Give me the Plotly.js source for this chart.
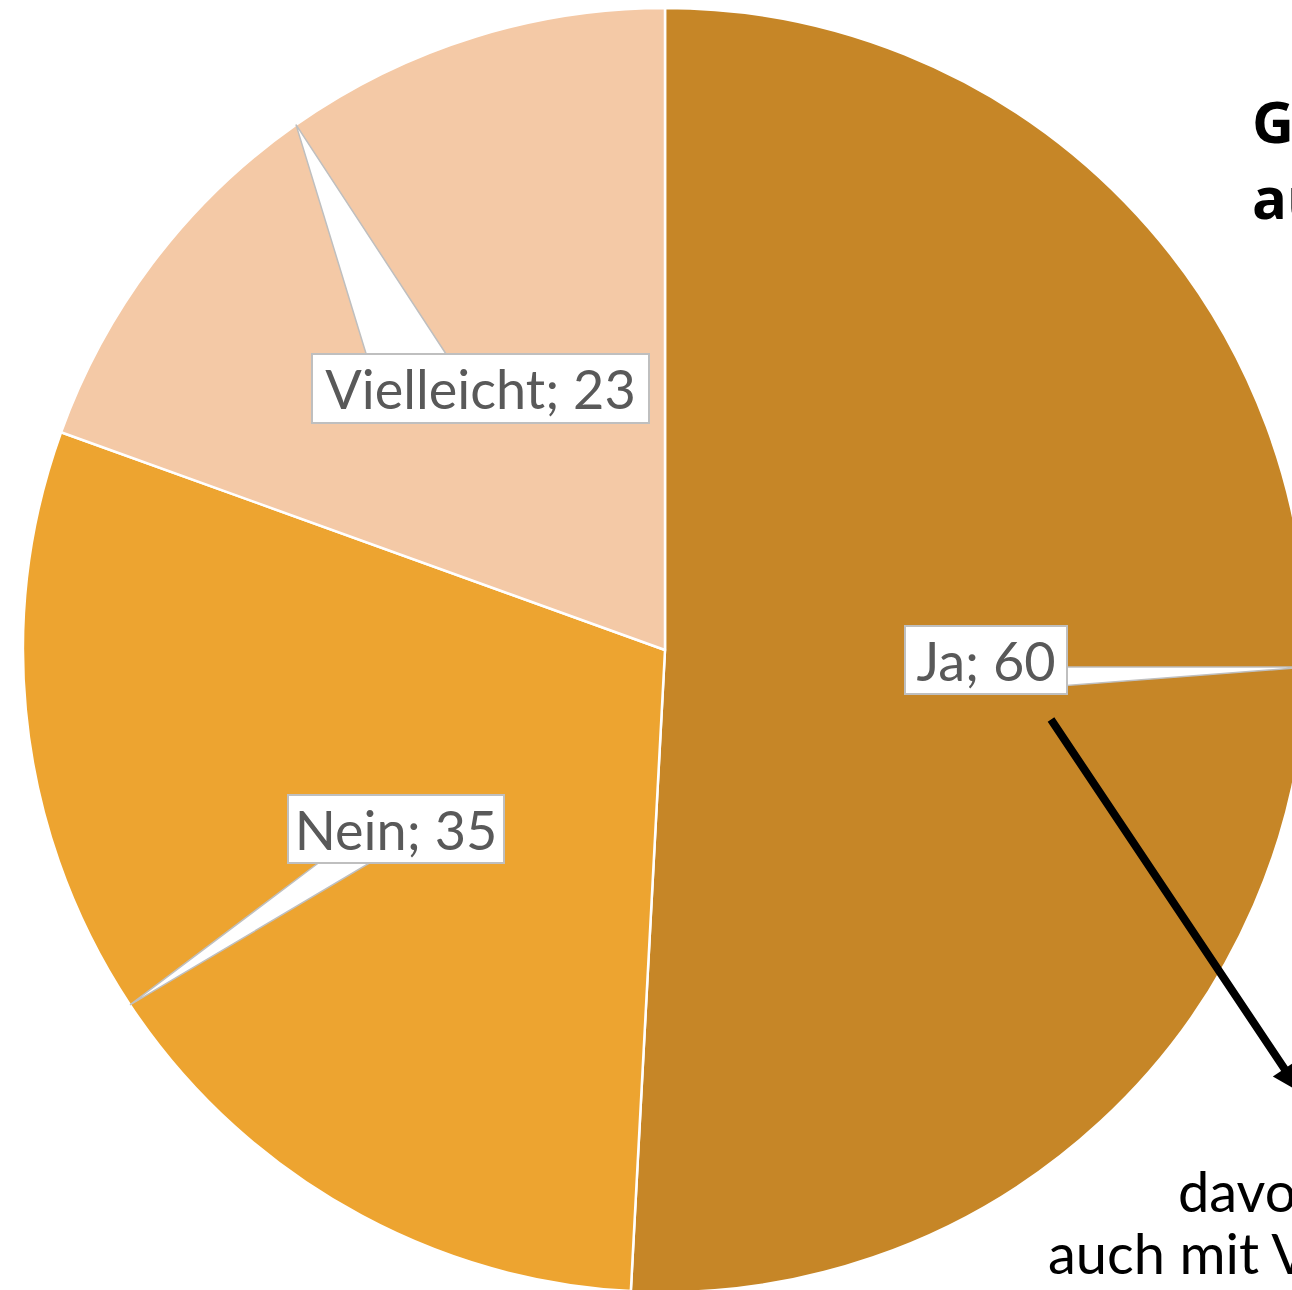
<!DOCTYPE html>
<html><head><meta charset="utf-8">
<script src="https://cdn.plot.ly/plotly-3.0.1.min.js"></script>
<style>html,body{margin:0;padding:0;overflow:hidden;background:#fff;}#chart{position:absolute;left:0;top:0;width:1900px;height:1400px;}</style>
</head><body><div id="chart"></div>
<script>
const categories = ["Ja", "Nein", "Vielleicht"];
const values = [60, 35, 23];
const colors = ["#C68627", "#EDA430", "#F4C9A6"];
const titleLines = ["Gibt es Interesse an", "auch künftigen Angeboten?"];
const noteLines = ["davon 28", "auch mit Verbesserungsvorschlägen"];

const W = 1900, H = 1400;
const CX = 665, CY = 650, R = 642;
const px = x => x / W;
const py = y => 1 - y / H;

// slice mid angles (clockwise from 12 o'clock), from data
const total = values.reduce((a, b) => a + b, 0);
let acc = 0;
const mids = values.map(v => { const m = (acc + v / 2) / total * 360; acc += v; return m; });
const tip = i => { const t = mids[i] * Math.PI / 180; return [CX + R * Math.sin(t), CY - R * Math.cos(t)]; };

// label boxes: [centerX, centerY, width, height]
const boxes = [[986, 660, 160, 66], [396, 829, 214, 66], [480, 388, 335, 67]];
// triangle bases for callouts (pixel layout positions)
const bases = [[[1060, 667], [1060, 686]], [[325, 858], [378, 858]], [[368, 360], [450, 360]]];

const shapes = categories.map((c, i) => {
  const [a, b] = bases[i]; const t = tip(i);
  return {type: 'path', xref: 'paper', yref: 'paper', layer: 'above',
    path: `M${px(a[0])},${py(a[1])} L${px(t[0])},${py(t[1])} L${px(b[0])},${py(b[1])} Z`,
    fillcolor: '#FFFFFF', line: {color: '#BFBFBF', width: 1.5}};
});

const annotations = categories.map((c, i) => ({
  xref: 'paper', yref: 'paper', x: px(boxes[i][0]), y: py(boxes[i][1]),
  xanchor: 'center', yanchor: 'middle', showarrow: false,
  text: c + '; ' + values[i], width: boxes[i][2], height: boxes[i][3],
  bgcolor: '#FFFFFF', bordercolor: '#BFBFBF', borderwidth: 2, borderpad: 0,
  font: {family: 'Lato, sans-serif', size: 54, color: '#595959'}
}));

annotations.push({xref: 'paper', yref: 'paper', x: px(1250), y: py(121), xanchor: 'left', yanchor: 'middle',
  showarrow: false, align: 'left', text: '<b>' + titleLines[0] + '</b>',
  font: {family: '"Open Sans", sans-serif', size: 58, color: '#000'}});
annotations.push({xref: 'paper', yref: 'paper', x: px(1250), y: py(197), xanchor: 'left', yanchor: 'middle',
  showarrow: false, align: 'left', text: '<b>' + titleLines[1] + '</b>',
  font: {family: '"Open Sans", sans-serif', size: 58, color: '#000'}});
annotations.push({xref: 'paper', yref: 'paper', x: px(1176), y: py(1190), xanchor: 'left', yanchor: 'middle',
  showarrow: false, text: noteLines[0], font: {family: 'Lato, sans-serif', size: 56, color: '#000'}});
annotations.push({xref: 'paper', yref: 'paper', x: px(1046), y: py(1252), xanchor: 'left', yanchor: 'middle',
  showarrow: false, text: noteLines[1], font: {family: 'Lato, sans-serif', size: 56, color: '#000'}});
// arrow
annotations.push({xref: 'paper', yref: 'paper', x: px(1300), y: py(1092), text: '', showarrow: true,
  axref: 'pixel', ayref: 'pixel', ax: 1050 - 1300, ay: 718 - 1092,
  arrowhead: 2, arrowsize: 0.7, arrowwidth: 8, arrowcolor: '#000', standoff: 0, startstandoff: 0});

const data = [{
  type: 'pie', labels: categories, values: values, sort: false, direction: 'clockwise', rotation: 0,
  marker: {colors: colors, line: {color: '#FFFFFF', width: 2.5}},
  textinfo: 'none', hoverinfo: 'none',
  domain: {x: [(CX - R) / W, (CX + R) / W], y: [1 - (CY + R) / H, 1 - (CY - R) / H]}
}];

const layout = {width: W, height: H, margin: {l: 0, r: 0, t: 0, b: 0}, showlegend: false,
  paper_bgcolor: '#FFFFFF', shapes: shapes, annotations: annotations};
Plotly.newPlot('chart', data, layout, {staticPlot: true});
</script></body></html>
